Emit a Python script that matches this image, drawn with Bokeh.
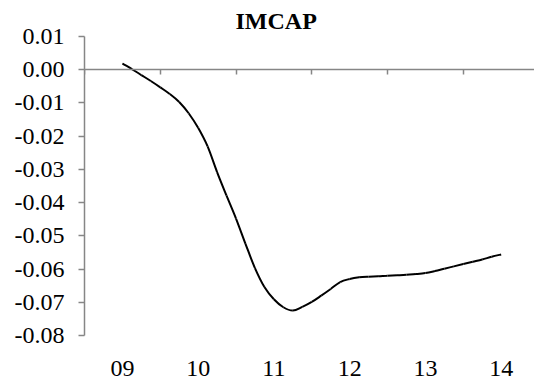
from bokeh.plotting import figure
from bokeh.models import (Range1d, FixedTicker, LinearAxis, PrintfTickFormatter, Title)
from bokeh.embed import file_html
from bokeh.resources import INLINE

# Year labels on the category axis (centres at 9..14)
year_ticks = [9, 10, 11, 12, 13, 14]
year_labels = ["09", "10", "11", "12", "13", "14"]
# Category boundaries where the zero line carries its tick marks
boundary_ticks = [8.5, 9.5, 10.5, 11.5, 12.5, 13.5, 14.5]

# IMCAP response, sampled every 1/8 of a year
t = [9.0 + 0.125 * i for i in range(41)]
imcap = [
    0.0018, 0.0002, -0.0016, -0.0034, -0.0053, -0.0073, -0.0097, -0.0131,
    -0.0175, -0.0231, -0.0308, -0.0379, -0.0448, -0.0524, -0.0597, -0.0654,
    -0.0691, -0.0715, -0.0725, -0.0714, -0.0699, -0.0680, -0.0660, -0.0639,
    -0.0630, -0.0625, -0.0623, -0.0622, -0.0620, -0.0619, -0.0617, -0.0615,
    -0.0612, -0.0606, -0.0599, -0.0592, -0.0585, -0.0578, -0.0571, -0.0563,
    -0.0556,
]
y_ticks = [-0.08, -0.07, -0.06, -0.05, -0.04, -0.03, -0.02, -0.01, 0.0, 0.01]

AXIS_GREY = "#868686"
FONT = "Liberation Serif"

p = figure(width=534, height=380, output_backend="svg", toolbar_location=None,
           x_range=Range1d(8.5, 14.44), y_range=Range1d(-0.08, 0.01),
           min_border_left=84, min_border_right=0, min_border_top=36,
           min_border_bottom=45, outline_line_color=None)
p.grid.visible = False

p.title = Title(text="IMCAP", align="left", offset=151,
                text_font=FONT, text_font_size="24px", text_font_style="bold",
                text_color="black", standoff=6)

# bottom axis: only the year labels
xa = p.xaxis[0]
xa.ticker = FixedTicker(ticks=year_ticks)
xa.major_label_overrides = {k: v for k, v in zip(year_ticks, year_labels)}
xa.axis_line_color = None
xa.major_tick_line_color = None
xa.minor_tick_line_color = None
xa.major_tick_out = 0
xa.major_tick_in = 0
xa.major_label_standoff = 25
xa.major_label_text_font = FONT
xa.major_label_text_font_size = "24px"
xa.major_label_text_color = "black"

# zero line; the category boundary marks are unlabeled minor ticks
zero_axis = LinearAxis(fixed_location=0,
                       ticker=FixedTicker(ticks=[], minor_ticks=boundary_ticks),
                       axis_line_color=AXIS_GREY, axis_line_width=1.5,
                       major_tick_line_color=None,
                       minor_tick_line_color=AXIS_GREY, minor_tick_line_width=1.5,
                       minor_tick_in=0, minor_tick_out=5)
p.add_layout(zero_axis, "below")

ya = p.yaxis[0]
ya.ticker = FixedTicker(ticks=y_ticks)
ya.formatter = PrintfTickFormatter(format="%.2f")
ya.axis_line_color = AXIS_GREY
ya.axis_line_width = 1.5
ya.major_tick_line_color = AXIS_GREY
ya.major_tick_line_width = 1.5
ya.major_tick_in = 0
ya.major_tick_out = 6
ya.minor_tick_line_color = None
ya.major_label_standoff = 14
ya.major_label_text_font = FONT
ya.major_label_text_font_size = "24px"
ya.major_label_text_color = "black"

# smooth curve: Catmull-Rom segments drawn as cubic Beziers through the samples
n = len(t)
x0, y0, x1, y1, cx0, cy0, cx1, cy1 = ([] for _ in range(8))
for i in range(n - 1):
    a = max(i - 1, 0)
    b = min(i + 2, n - 1)
    x0.append(t[i]); y0.append(imcap[i])
    x1.append(t[i + 1]); y1.append(imcap[i + 1])
    cx0.append(t[i] + (t[i + 1] - t[a]) / 6)
    cy0.append(imcap[i] + (imcap[i + 1] - imcap[a]) / 6)
    cx1.append(t[i + 1] - (t[b] - t[i]) / 6)
    cy1.append(imcap[i + 1] - (imcap[b] - imcap[i]) / 6)
p.bezier(x0=x0, y0=y0, x1=x1, y1=y1, cx0=cx0, cy0=cy0, cx1=cx1, cy1=cy1,
         line_color="black", line_width=2)

open("out.html", "w").write(file_html(p, INLINE))
